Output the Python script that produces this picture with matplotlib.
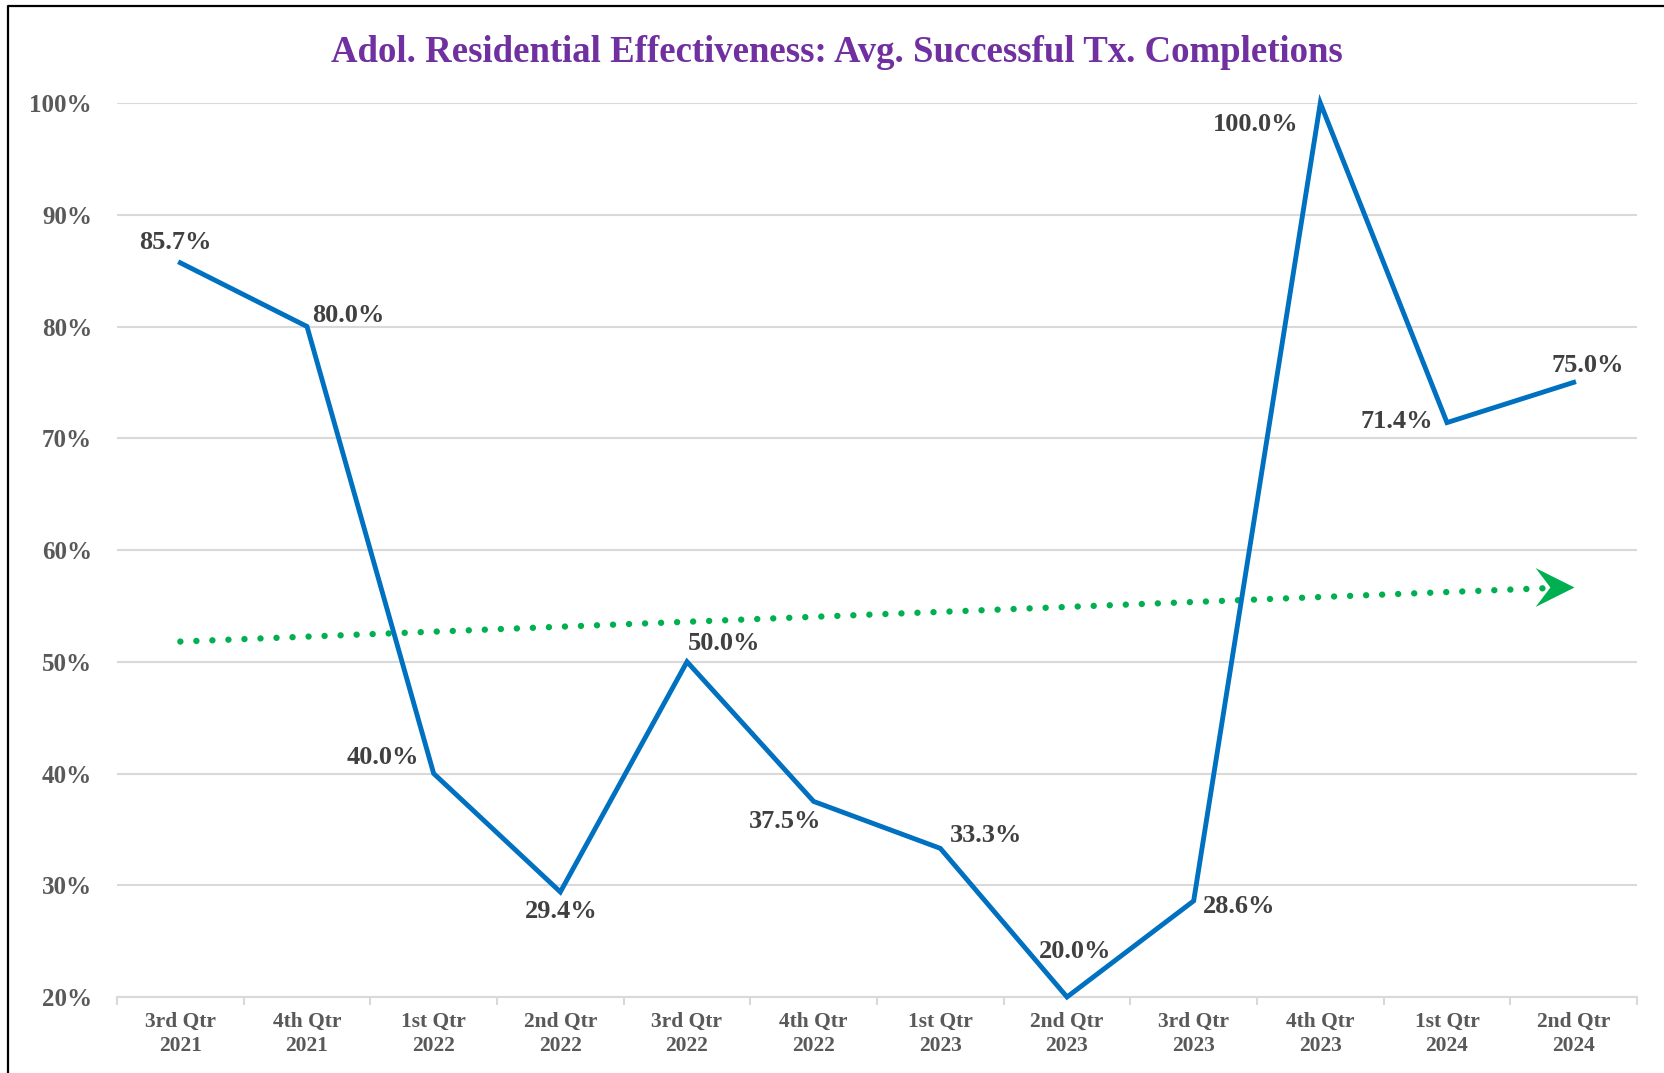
import numpy as np
import matplotlib.pyplot as plt
from matplotlib.lines import Line2D
from matplotlib.path import Path
from matplotlib.ticker import FuncFormatter

quarters = ["3rd Qtr\n2021", "4th Qtr\n2021", "1st Qtr\n2022", "2nd Qtr\n2022",
            "3rd Qtr\n2022", "4th Qtr\n2022", "1st Qtr\n2023", "2nd Qtr\n2023",
            "3rd Qtr\n2023", "4th Qtr\n2023", "1st Qtr\n2024", "2nd Qtr\n2024"]
rates = [0.857, 0.800, 0.400, 0.294, 0.500, 0.375, 0.333, 0.200, 0.286, 1.000, 0.714, 0.750]
labels = ["85.7%", "80.0%", "40.0%", "29.4%", "50.0%", "37.5%", "33.3%", "20.0%",
          "28.6%", "100.0%", "71.4%", "75.0%"]
# label offsets in pixels (dx, dy)
offsets = [(-5, 20), (41, 11), (-51, 16), (1, -20), (37, 18), (-29, -20),
           (46, 13), (8, 45), (45, -6), (-65, -21), (-50, 1), (14, 17)]

plt.rcParams['font.family'] = 'Liberation Serif'
plt.rcParams['font.weight'] = 'bold'

fig = plt.figure(figsize=(16.65, 10.73), dpi=100)
ax = fig.add_axes([117 / 1665, 1 - 997 / 1073, (1637 - 117) / 1665, (997 - 103) / 1073])

x = np.arange(len(rates))
ax.plot(x, rates, color='#0070C0', lw=3.5, clip_on=False, zorder=3,
        solid_joinstyle='miter')

# linear trendline
m, b = np.polyfit(x, rates, 1)
tx = np.array([0, 11])
ty = m * tx + b
ax.plot([0, 10.8], [b, m * 10.8 + b], color='#00B050', lw=4.6,
        linestyle=(0, (0.01, 2.5)), dash_capstyle='round', zorder=2)
head = Path([(0, 0), (-1.0, 0.5), (-0.62, 0), (-1.0, -0.5), (0, 0)],
            [Path.MOVETO, Path.LINETO, Path.LINETO, Path.LINETO, Path.CLOSEPOLY])
ax.plot([11], [ty[1]], marker=head, markersize=56, color='#00B050',
        markeredgewidth=0, zorder=2)

for xi, yi, lab, (dx, dy) in zip(x, rates, labels, offsets):
    ax.annotate(lab, (xi, yi), xytext=(dx, dy), textcoords='offset pixels',
                ha='center', va='center', fontsize=19, fontweight='bold',
                color='#404040', zorder=4)

ax.set_xlim(-0.5, 11.5)
ax.set_ylim(0.2, 1.0)
ax.set_yticks(np.arange(0.2, 1.01, 0.1))
ax.yaxis.set_major_formatter(FuncFormatter(lambda v, p: f"{v * 100:.0f}%"))
ax.set_xticks(x)
ax.set_xticklabels(quarters)
ax.set_xticks(np.arange(-0.5, 12, 1), minor=True)

ax.grid(axis='y', color='#D9D9D9', lw=1.5)
ax.set_axisbelow(True)
for s in ['top', 'right', 'left']:
    ax.spines[s].set_visible(False)
ax.spines['bottom'].set_color('#D9D9D9')
ax.spines['bottom'].set_linewidth(1.5)

ax.tick_params(axis='y', length=0, pad=18, labelsize=18, labelcolor='#595959')
ax.tick_params(axis='x', which='major', length=0, pad=11, labelsize=15.5,
               labelcolor='#595959')
ax.tick_params(axis='x', which='minor', length=6, width=1.5, color='#D9D9D9')
for t in ax.get_xticklabels() + ax.get_yticklabels():
    t.set_fontweight('bold')
for t in ax.get_xticklabels():
    t.set_linespacing(1.25)

fig.text(837 / 1665, 1 - 52 / 1073,
         "Adol. Residential Effectiveness: Avg. Successful Tx. Completions",
         ha='center', va='center', fontsize=26.5, fontweight='bold', color='#7030A0')

# outer frame (left and top edges)
fx = 8 / 1665
fy = 1 - 6 / 1073
fig.add_artist(Line2D([fx, fx, 1.0], [0.0, fy, fy], color='black', lw=1.6,
                      transform=fig.transFigure))

fig.savefig('out.png', dpi=100)
